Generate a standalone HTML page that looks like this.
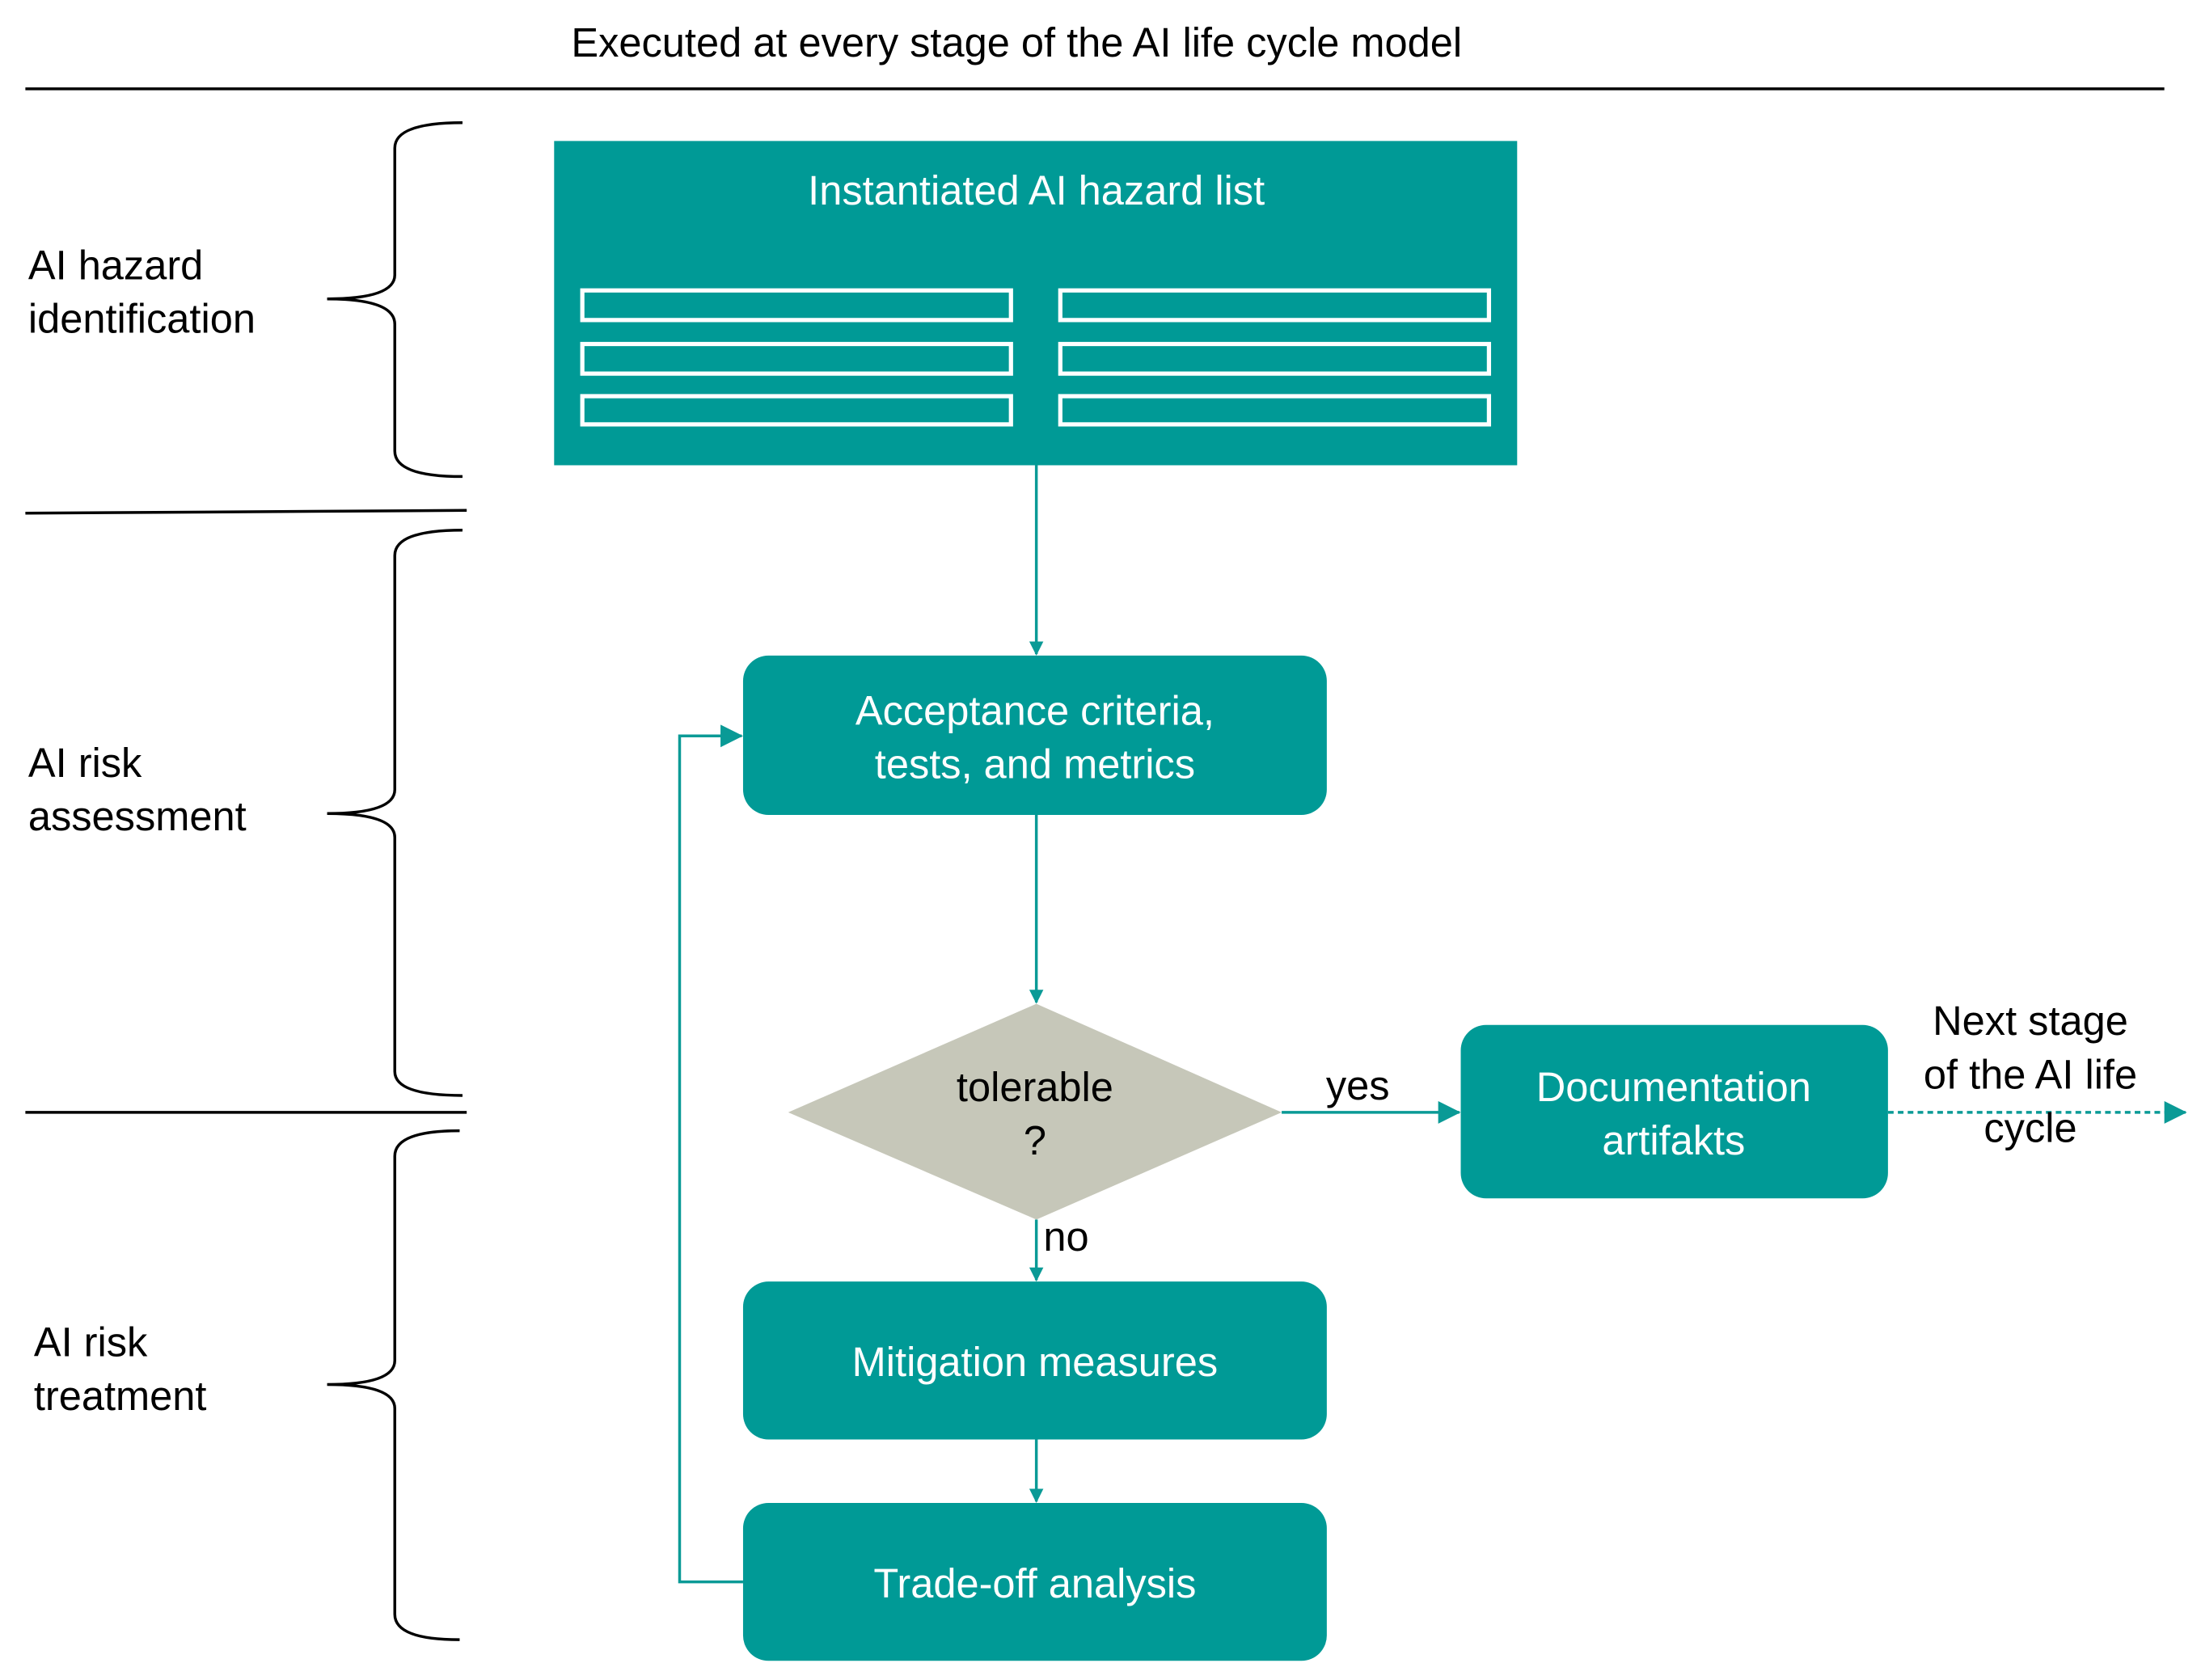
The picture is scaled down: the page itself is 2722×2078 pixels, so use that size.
<!DOCTYPE html>
<html><head><meta charset="utf-8"><style>
html,body{margin:0;padding:0;background:#fff;}
svg{display:block;}
text{font-family:"Liberation Sans",Arial,sans-serif;font-size:29px;}
</style></head><body>
<svg width="2722" height="2078" viewBox="0 0 1561 1191.6" preserveAspectRatio="none" xmlns="http://www.w3.org/2000/svg">
<defs>
<marker id="ah" markerWidth="10" markerHeight="10" refX="9" refY="5" orient="auto" markerUnits="userSpaceOnUse" viewBox="0 0 10 10">
<path d="M0,0 L10,5 L0,10 Z" fill="#0a9a96"/></marker>
<marker id="ah2" markerWidth="16" markerHeight="16" refX="15" refY="8" orient="auto" markerUnits="userSpaceOnUse" viewBox="0 0 16 16">
<path d="M0,0 L16,8 L0,16 Z" fill="#0a9a96"/></marker>
</defs>
<rect width="1561" height="1192" fill="#fff"/>
<text x="721" y="40" text-anchor="middle" font-size="30">Executed at every stage of the AI life cycle model</text>
<line x1="18" y1="63" x2="1535" y2="63" stroke="#000" stroke-width="2"/>
<line x1="18" y1="364" x2="331" y2="362" stroke="#000" stroke-width="2"/>
<line x1="18" y1="789" x2="331" y2="789" stroke="#000" stroke-width="2"/>
<line x1="18" y1="1195" x2="1535" y2="1195" stroke="#000" stroke-width="2"/>
<g fill="none" stroke="#000" stroke-width="2">
<path d="M328,87 Q280,87 280,105 L280,195 Q280,212 232,212 Q280,212 280,230 L280,320 Q280,338 328,338"/>
<path d="M328,376 Q280,376 280,394 L280,560 Q280,577 232,577 Q280,577 280,594 L280,760 Q280,777 328,777"/>
<path d="M326,802 Q280,802 280,820 L280,965 Q280,982 232,982 Q280,982 280,999 L280,1145 Q280,1163 326,1163"/>
</g>
<text x="20" y="198">AI hazard</text><text x="20" y="236">identification</text>
<text x="20" y="551">AI risk</text><text x="20" y="589">assessment</text>
<text x="24" y="962">AI risk</text><text x="24" y="1000">treatment</text>

<rect x="393" y="100" width="683" height="230" fill="#009a96"/>
<text x="735" y="145" text-anchor="middle" fill="#fff">Instantiated AI hazard list</text>
<g fill="none" stroke="#fff" stroke-width="3">
<rect x="413" y="206" width="304" height="21"/><rect x="752" y="206" width="304" height="21"/>
<rect x="413" y="244" width="304" height="21"/><rect x="752" y="244" width="304" height="21"/>
<rect x="413" y="281" width="304" height="20"/><rect x="752" y="281" width="304" height="20"/>
</g>
<g stroke="#0a9a96" stroke-width="2" fill="none">
<line x1="735" y1="330" x2="735" y2="464" marker-end="url(#ah)"/>
<line x1="735" y1="578" x2="735" y2="711" marker-end="url(#ah)"/>
<line x1="909" y1="789" x2="1035" y2="789" marker-end="url(#ah2)"/>
<line x1="1339" y1="789" x2="1550" y2="789" stroke-dasharray="4,3" marker-end="url(#ah2)"/>
<line x1="735" y1="865" x2="735" y2="908" marker-end="url(#ah)"/>
<line x1="735" y1="1021" x2="735" y2="1065" marker-end="url(#ah)"/>
<polyline points="527,1122 482,1122 482,522 526,522" marker-end="url(#ah2)"/>
</g>
<rect x="527" y="465" width="414" height="113" rx="18" fill="#009a96"/>
<text x="734" y="514" text-anchor="middle" fill="#fff">Acceptance criteria,</text>
<text x="734" y="552" text-anchor="middle" fill="#fff">tests, and metrics</text>
<polygon points="735,712 909,789 735,865 559,789" fill="#c6c7b9"/>
<text x="734" y="781" text-anchor="middle">tolerable</text>
<text x="734" y="819" text-anchor="middle">?</text>
<text x="963" y="780" text-anchor="middle">yes</text>
<text x="740" y="887">no</text>
<rect x="1036" y="727" width="303" height="123" rx="18" fill="#009a96"/>
<text x="1187" y="781" text-anchor="middle" fill="#fff">Documentation</text>
<text x="1187" y="819" text-anchor="middle" fill="#fff">artifakts</text>
<text x="1440" y="734" text-anchor="middle">Next stage</text>
<text x="1440" y="772" text-anchor="middle">of the AI life</text>
<text x="1440" y="810" text-anchor="middle">cycle</text>
<rect x="527" y="909" width="414" height="112" rx="18" fill="#009a96"/>
<text x="734" y="976" text-anchor="middle" fill="#fff">Mitigation measures</text>
<rect x="527" y="1066" width="414" height="112" rx="18" fill="#009a96"/>
<text x="734" y="1133" text-anchor="middle" fill="#fff">Trade-off analysis</text>
</svg>
</body></html>
